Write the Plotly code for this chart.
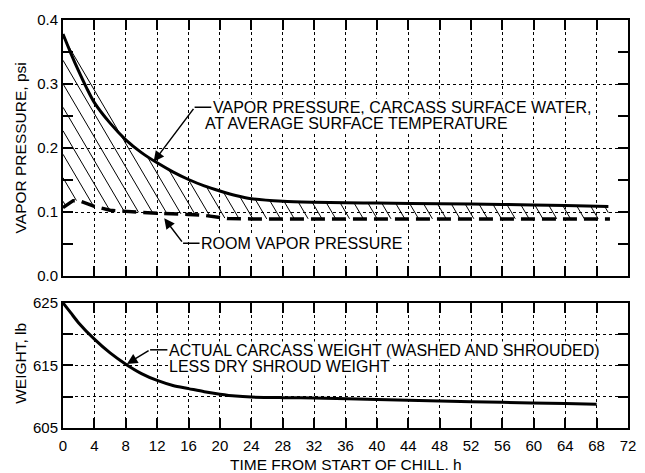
import numpy as np
import plotly.graph_objects as go

# ---------------- data ----------------
vp_time = [0, 1, 2, 3, 4, 6, 8, 10, 12, 14, 16, 18, 20, 22, 24, 28, 32, 36, 40, 48, 56, 64, 69.5]
vp_surface = [0.378, 0.348, 0.320, 0.294, 0.271, 0.239, 0.213, 0.193, 0.177, 0.163, 0.151,
              0.141, 0.133, 0.126, 0.121, 0.117, 0.1155, 0.1148, 0.1142, 0.1132, 0.1120,
              0.1105, 0.1090]

room_time = [0, 1.3, 2, 4, 6, 8, 10, 12, 14, 16, 18, 20, 21, 24, 32, 40, 48, 56, 64, 69.7]
room_vp = [0.107, 0.118, 0.118, 0.109, 0.103, 0.101, 0.0995, 0.0985, 0.098, 0.0965, 0.095,
           0.092, 0.090, 0.0895, 0.0895, 0.0895, 0.0895, 0.0895, 0.0895, 0.0895]

wt_time = [0, 1, 2, 4, 6, 8, 10, 12, 14, 16, 18, 20, 22, 24, 28, 32, 40, 48, 56, 64, 68]
weight = [625, 623.4, 621.8, 619.2, 617.0, 615.2, 613.7, 612.6, 611.8, 611.3, 610.8, 610.4,
          610.1, 609.95, 609.85, 609.8, 609.55, 609.3, 609.1, 608.9, 608.8]

x_ticks = list(range(0, 73, 4))
vp_ticks = [0.0, 0.1, 0.2, 0.3, 0.4]
wt_ticks = [605, 615, 625]

# ---------------- hatching between the two vapour-pressure curves ----------------
HATCH_SLOPE = 48.0   # hours per psi along a hatch line
HATCH_STEP = 1.76    # horizontal spacing of hatch lines, h
HATCH_START = -15.34
t_end = min(vp_time[-1], room_time[-1])
tt = np.linspace(0, t_end, 6000)
up = np.interp(tt, vp_time, vp_surface)
lo = np.interp(tt, room_time, room_vp)
hx, hy = [], []
t0 = HATCH_START
while t0 < t_end:
    pl = 0.4 - (tt - t0) / HATCH_SLOPE
    idx = np.nonzero((pl <= up) & (pl >= lo))[0]
    if idx.size > 1:
        hx += [float(tt[idx[0]]), float(tt[idx[-1]]), None]
        hy += [float(pl[idx[0]]), float(pl[idx[-1]]), None]
    t0 += HATCH_STEP

FONT = "Liberation Sans, Arial, Helvetica, sans-serif"

fig = go.Figure()
fig.add_trace(go.Scatter(x=hx, y=hy, mode="lines", xaxis="x", yaxis="y",
                         line=dict(color="black", width=1), hoverinfo="skip"))
fig.add_trace(go.Scatter(x=room_time, y=room_vp, mode="lines", xaxis="x", yaxis="y",
                         line=dict(color="black", width=3.5, dash="14px,7px")))
fig.add_trace(go.Scatter(x=vp_time, y=vp_surface, mode="lines", xaxis="x", yaxis="y",
                         line=dict(color="black", width=3, shape="spline", smoothing=0.8)))
fig.add_trace(go.Scatter(x=wt_time, y=weight, mode="lines", xaxis="x2", yaxis="y2",
                         line=dict(color="black", width=3, shape="spline", smoothing=0.8)))

axis_common = dict(ticks="inside", ticklen=10, tickwidth=1.5, tickcolor="black",
                   showline=True, linewidth=2, linecolor="black", mirror="ticks",
                   showgrid=True, gridcolor="black", griddash="dot", gridwidth=1,
                   zeroline=False, tickfont=dict(family=FONT, size=15, color="black"))

top_dom = [0.372, 1.0]
bot_dom = [0.0, 0.3066]

fig.update_layout(
    width=645, height=473,
    margin=dict(l=63, r=9, t=20, b=45),
    paper_bgcolor="white", plot_bgcolor="white",
    showlegend=False,
    font=dict(family=FONT, size=15, color="black"),
    xaxis=dict(axis_common, range=[0, 72], tickmode="array", tickvals=x_ticks,
               showticklabels=False, anchor="y", domain=[0, 1]),
    xaxis2=dict(axis_common, range=[0, 72], tickmode="array", tickvals=x_ticks,
                ticktext=[str(v) for v in x_ticks], anchor="y2", domain=[0, 1],
                ticklabelstandoff=3),
    yaxis=dict(axis_common, range=[0, 0.4], tickmode="array", tickvals=vp_ticks,
               ticktext=["%.1f" % v for v in vp_ticks], domain=top_dom, anchor="x",
               minor=dict(dtick=0.05, tick0=0, ticks="inside", ticklen=10, tickwidth=1.5,
                          tickcolor="black", showgrid=False)),
    yaxis2=dict(axis_common, range=[605, 625], tickmode="array", tickvals=wt_ticks,
                ticktext=[str(v) for v in wt_ticks], domain=bot_dom, anchor="x2",
                minor=dict(dtick=5, tick0=605, ticks="inside", ticklen=10, tickwidth=1.5,
                           tickcolor="black", showgrid=True, gridcolor="black",
                           griddash="dot", gridwidth=1)),
)

TTL = dict(family=FONT, size=15.5, color="black")
TXT = dict(family=FONT, size=16, color="black")
annos = []
# axis titles
annos.append(dict(text="VAPOR PRESSURE, psi", xref="paper", yref="paper", x=-0.0756,
                  y=(top_dom[0] + top_dom[1]) / 2, textangle=-90, showarrow=False,
                  xanchor="center", yanchor="middle", font=TTL))
annos.append(dict(text="WEIGHT, lb", xref="paper", yref="paper", x=-0.0756,
                  y=0.158, textangle=-90, showarrow=False,
                  xanchor="center", yanchor="middle", font=TTL))
annos.append(dict(text="TIME FROM START OF CHILL. h", xref="paper", yref="paper", x=0.5,
                  y=-0.089, showarrow=False, xanchor="center", yanchor="middle", font=TTL))

# callout texts
annos.append(dict(text="VAPOR PRESSURE, CARCASS SURFACE WATER,", x=19.05, y=0.2635,
                  xref="x", yref="y", showarrow=False, xanchor="left", yanchor="middle",
                  font=TXT, bgcolor="white", borderpad=0))
annos.append(dict(text="AT AVERAGE SURFACE TEMPERATURE", x=18.0, y=0.238,
                  xref="x", yref="y", showarrow=False, xanchor="left", yanchor="middle",
                  font=TXT, bgcolor="white", borderpad=0))
annos.append(dict(text="ROOM VAPOR PRESSURE", x=17.4, y=0.0516,
                  xref="x", yref="y", showarrow=False, xanchor="left", yanchor="middle",
                  font=TXT, bgcolor="white", borderpad=0))
annos.append(dict(text="ACTUAL CARCASS WEIGHT (WASHED AND SHROUDED)", x=13.35, y=617.45,
                  xref="x2", yref="y2", showarrow=False, xanchor="left", yanchor="middle",
                  font=TXT, bgcolor="white", borderpad=0))
annos.append(dict(text="LESS DRY SHROUD WEIGHT", x=13.35, y=614.9,
                  xref="x2", yref="y2", showarrow=False, xanchor="left", yanchor="middle",
                  font=TXT, bgcolor="white", borderpad=0))

# arrows
ARROW = dict(showarrow=True, text="", arrowhead=2, arrowsize=1.4, arrowwidth=1.5,
             arrowcolor="black", standoff=0, startstandoff=0)
annos.append(dict(ARROW, x=11.55, y=0.1786, ax=16.77, ay=0.2636,
                  xref="x", yref="y", axref="x", ayref="y"))
annos.append(dict(ARROW, x=12.9, y=0.0905, ax=15.3, ay=0.0516,
                  xref="x", yref="y", axref="x", ayref="y"))
annos.append(dict(ARROW, x=8.15, y=615.25, ax=11.1, ay=617.5,
                  xref="x2", yref="y2", axref="x2", ayref="y2"))
fig.update_layout(annotations=annos)

LEAD = dict(type="line", line=dict(color="black", width=1.5))
fig.update_layout(shapes=[
    dict(LEAD, xref="x", yref="y", x0=16.77, x1=18.9, y0=0.2636, y1=0.2636),
    dict(LEAD, xref="x", yref="y", x0=15.3, x1=17.4, y0=0.0516, y1=0.0516),
    dict(LEAD, xref="x2", yref="y2", x0=11.1, x1=13.3, y0=617.5, y1=617.5),
])

fig.write_html("out.html", config={"displayModeBar": False},
               post_script="document.body.style.margin='0px';document.body.style.padding='0px';")
